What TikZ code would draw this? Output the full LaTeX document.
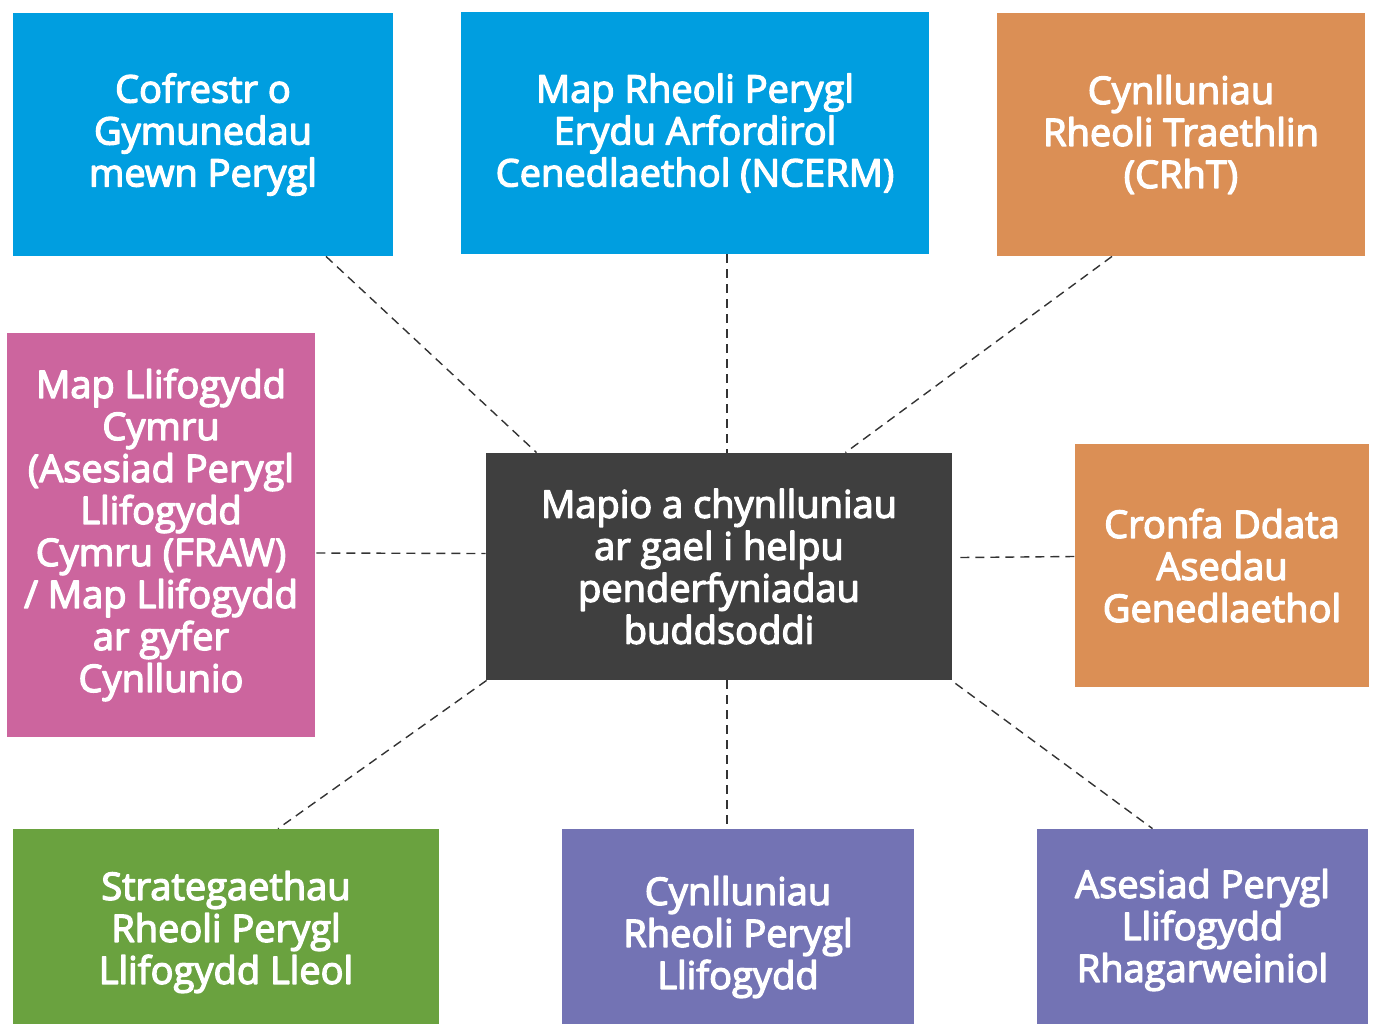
\documentclass[tikz,border=0pt]{standalone}
\usepackage{fontspec}
\setmainfont{Open Sans}[UprightFeatures={FakeBold=3.5}]
\usetikzlibrary{calc}

\definecolor{cblue}{HTML}{009EE0}
\definecolor{corange}{HTML}{DB8F55}
\definecolor{cpink}{HTML}{CC659E}
\definecolor{cdark}{HTML}{3F3F3F}
\definecolor{cgreen}{HTML}{6AA23F}
\definecolor{cpurple}{HTML}{7373B4}
\definecolor{cline}{HTML}{333333}

\begin{document}
\begin{tikzpicture}[line cap=butt,line join=round,x=0.5pt,y=-0.5pt,
  tile/.style={rectangle,inner sep=0pt,align=center,text=white,
    font=\fontsize{19}{21}\selectfont},
  link/.style={draw=cline,line width=0.7pt,dash pattern=on 4.5pt off 3pt}]
\useasboundingbox (0,0) rectangle (1373,1024);

% boxes
\node[tile,fill=cblue,minimum width=190pt,minimum height=121.5pt] (cof) at (203,134.5) {Cofrestr o\\Gymunedau\\mewn Perygl};
\node[tile,fill=cblue,minimum width=234pt,minimum height=121pt] (ncerm) at (695,133) {Map Rheoli Perygl\\Erydu Arfordirol\\Cenedlaethol (NCERM)};
\node[tile,fill=corange,minimum width=184pt,minimum height=121.5pt] (crht) at (1181,134.5) {Cynlluniau\\Rheoli Traethlin\\(CRhT)};
\node[tile,fill=cpink,minimum width=154pt,minimum height=202pt] (fraw) at (161,535) {Map Llifogydd\\Cymru\\(Asesiad Perygl\\Llifogydd\\Cymru (FRAW)\\/ Map Llifogydd\\ar gyfer\\Cynllunio};
\node[tile,fill=cdark,minimum width=233pt,minimum height=113.5pt] (mid) at (719,566.5) {Mapio a chynlluniau\\ar gael i helpu\\penderfyniadau\\buddsoddi};
\node[tile,fill=corange,minimum width=147pt,minimum height=121.5pt] (cronfa) at (1222,565.5) {Cronfa Ddata\\Asedau\\Genedlaethol};
\node[tile,fill=cgreen,minimum width=213pt,minimum height=103pt] (strat) at (226,932) {Strategaethau\\Rheoli Perygl\\Llifogydd Lleol};
\node[tile,fill=cpurple,minimum width=176pt,minimum height=108pt] (crpl) at (738,937) {Cynlluniau\\Rheoli Perygl\\Llifogydd};
\node[tile,fill=cpurple,minimum width=165.5pt,minimum height=101pt] (ases) at (1202.5,930) {Asesiad Perygl\\Llifogydd\\Rhagarweiniol};

% dashed links
\draw[link] ($(cof.south)+(123,0)$) -- ($(mid.north west)+(51,0)$);
\draw[link] ($(ncerm.south)+(32,0)$) -- ($(mid.north)+(8,0)$);
\draw[link] ($(crht.south)+(-69,0)$) -- ($(mid.north east)+(-107,0)$);
\draw[link] ($(fraw.east)+(1,18)$) -- ($(mid.west)+(0,-13)$);
\draw[link] ($(mid.east)+(8,-9)$) -- ($(cronfa.west)+(0,-9)$);
\draw[link] ($(mid.south west)+(1,0)$) -- ($(strat.north)+(52,0)$);
\draw[link] ($(mid.south)+(8,0)$) -- ($(crpl.north)+(-11,0)$);
\draw[link] ($(mid.south east)+(3,3)$) -- ($(ases.north)+(-50,0)$);
\end{tikzpicture}
\end{document}
